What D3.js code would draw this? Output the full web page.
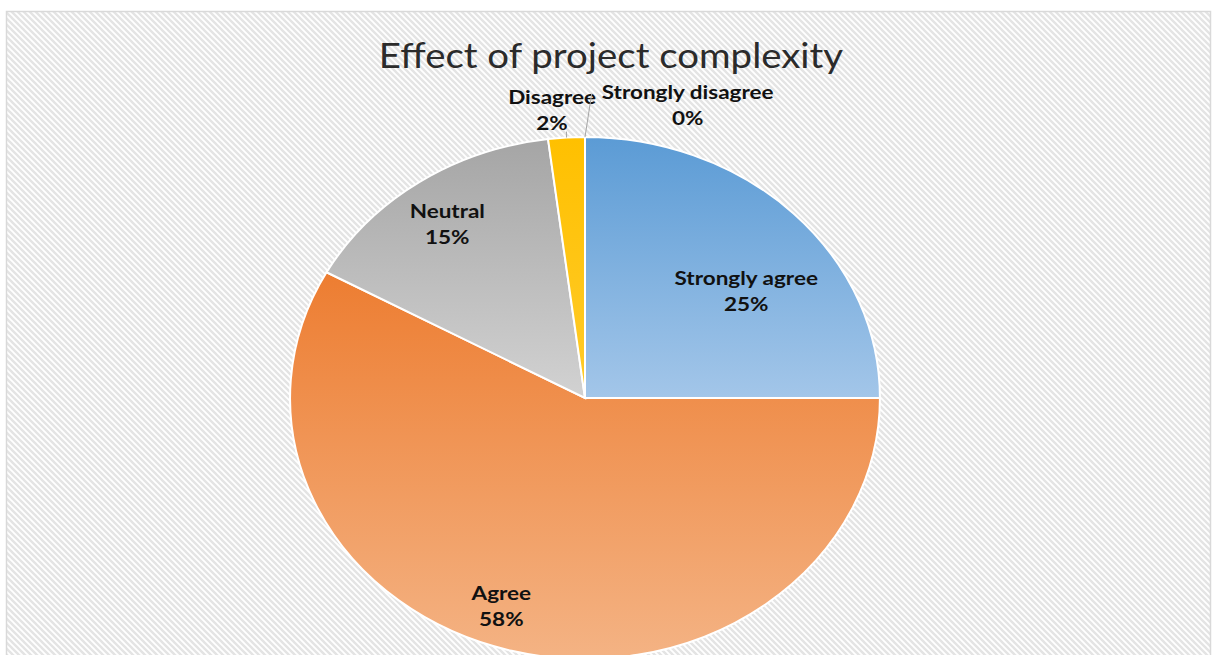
<!DOCTYPE html>
<html>
<head>
<meta charset="utf-8">
<script src="https://cdn.jsdelivr.net/npm/d3@7"></script>
<style>
  html, body { margin: 0; padding: 0; background: #ffffff; }
  svg { display: block; }
</style>
</head>
<body>
<svg id="chart" width="1213" height="655"></svg>
<script>
// Survey responses: "Effect of project complexity"
const categories = ["Strongly agree", "Agree", "Neutral", "Disagree", "Strongly disagree"];
const values = [25, 58, 15, 2, 0];
const titleText = "Effect of project complexity";

// Slice fills: top colour -> bottom colour of a vertical gradient
const topColors = ["#5B9BD5", "#ED7D31", "#A5A5A5", "#FFC000", "#4472C4"];
const bottomColors = ["#A3C6E9", "#F4B384", "#D2D2D2", "#FFCB2A", "#8FAADC"];

const W = 1213, H = 655;
const svg = d3.select("#chart");
const defs = svg.append("defs");

// Light diagonal hatch behind the plot
const hatch = defs.append("pattern")
  .attr("id", "hatch")
  .attr("patternUnits", "userSpaceOnUse")
  .attr("width", 6).attr("height", 6);
hatch.append("rect").attr("width", 6).attr("height", 6).attr("fill", "#ffffff");
hatch.append("path")
  .attr("d", "M-1,-1 L7,7 M-4,2 L2,8 M4,-2 L8,2")
  .attr("stroke", "#e4e4e4").attr("stroke-width", 2.4);

svg.append("rect")
  .attr("x", 6.5).attr("y", 11.5)
  .attr("width", 1204).attr("height", 660)
  .attr("fill", "url(#hatch)")
  .attr("stroke", "#d9d9d9").attr("stroke-width", 1.5);

// Title
const titleX = 611, titleY = 68, stretch = 1.13, labelStretch = 1.25;
svg.append("text")
  .attr("transform", `translate(${titleX},${titleY}) scale(${stretch},1)`)
  .attr("text-anchor", "middle")
  .attr("font-family", "Lato, 'Open Sans', sans-serif")
  .attr("font-size", 34)
  .attr("fill", "#2b2b2b")
  .text(titleText);

// Pie geometry (drawn slightly wider than tall)
const cx = 585, cy = 398, R = 261;
const pie = d3.pie().sort(null).value(d => d)(values);
const arc = d3.arc().innerRadius(0).outerRadius(R);

pie.forEach((d, i) => {
  const g = defs.append("linearGradient")
    .attr("id", "grad" + i)
    .attr("x1", 0).attr("y1", 0).attr("x2", 0).attr("y2", 1);
  g.append("stop").attr("offset", "0%").attr("stop-color", topColors[i]);
  g.append("stop").attr("offset", "100%").attr("stop-color", bottomColors[i]);
});

const pieG = svg.append("g")
  .attr("transform", `translate(${cx},${cy}) scale(${stretch},1)`);

pieG.selectAll("path.slice")
  .data(pie)
  .join("path")
  .attr("class", "slice")
  .attr("d", arc)
  .attr("fill", (d, i) => `url(#grad${i})`)
  .attr("stroke", "#ffffff")
  .attr("stroke-width", 2)
  .attr("vector-effect", "non-scaling-stroke");

// Data label placement: radius fraction and angular nudge (degrees) from slice middle
const labelRadius = [0.68, 0.85, 0.81, 1.105, 1.17];
const labelNudge = [8.5, 5.1, -1.0, -2.2, 17.3];

function toScreen(angle, r) {
  return [cx + stretch * r * Math.sin(angle), cy - r * Math.cos(angle)];
}

const labels = pie.map((d, i) => {
  const mid = (d.startAngle + d.endAngle) / 2 + labelNudge[i] * Math.PI / 180;
  const [x, y] = toScreen(mid, R * labelRadius[i]);
  return { d, i, x, y, mid: (d.startAngle + d.endAngle) / 2 };
});

const lineGap = 26;
const labelG = svg.append("g");
labels.forEach(l => {
  const t = labelG.append("text")
    .attr("transform", `translate(${l.x},${l.y}) scale(${labelStretch},1)`)
    .attr("text-anchor", "middle")
    .attr("font-family", "Lato, 'Open Sans', sans-serif")
    .attr("font-weight", "bold")
    .attr("font-size", 18)
    .attr("fill", "#111111");
  t.append("tspan").attr("x", 0).attr("y", -lineGap / 2 + 6).text(categories[l.i]);
  t.append("tspan").attr("x", 0).attr("y", lineGap / 2 + 6).text(values[l.i] + "%");
  l.node = t.node();
});

// Leader lines for labels placed outside the pie
labels.filter(l => labelRadius[l.i] > 1).forEach(l => {
  const [px, py] = toScreen(l.mid, R);
  const bb = l.node.getBoundingClientRect();
  let sx, sy;
  if (bb.left > px + 4) {            // label sits to the right of the edge point
    sx = bb.left - 10; sy = l.y - lineGap / 2;
  } else {                            // label sits above the edge point
    sx = px; sy = bb.bottom - 2;
  }
  svg.append("line")
    .attr("x1", sx).attr("y1", sy)
    .attr("x2", px).attr("y2", py)
    .attr("stroke", "#a6a6a6").attr("stroke-width", 1);
});
</script>
</body>
</html>
